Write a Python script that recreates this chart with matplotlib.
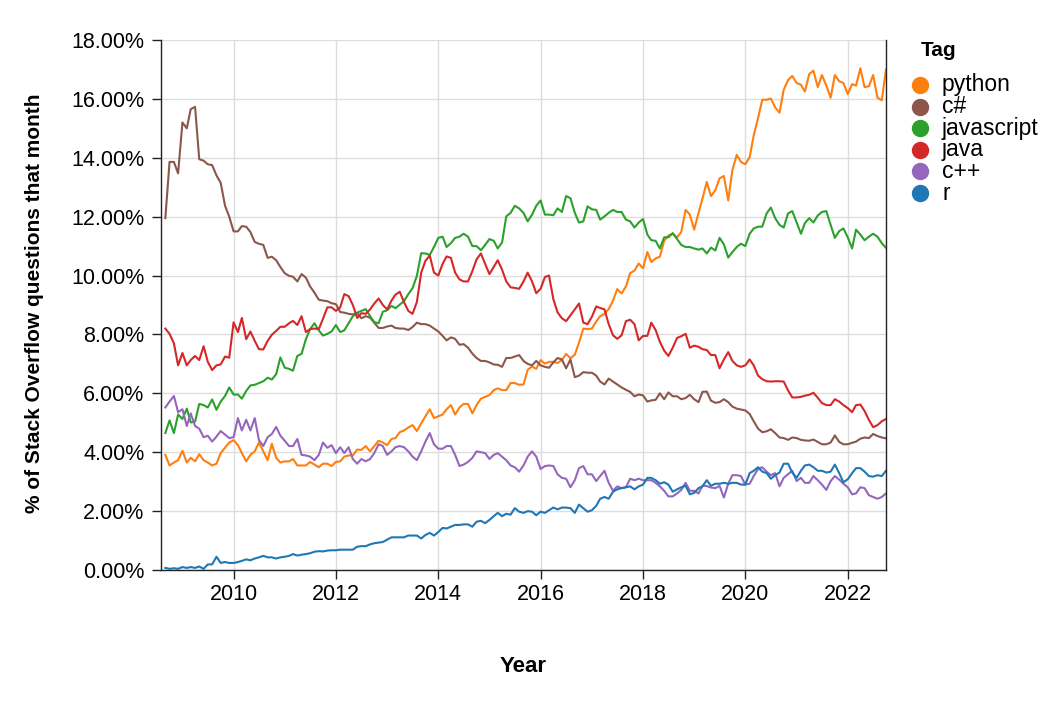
import matplotlib
matplotlib.use("Agg")
import matplotlib.pyplot as plt
import matplotlib.dates as mdates
from matplotlib.lines import Line2D
from matplotlib.ticker import MultipleLocator, FuncFormatter
from datetime import datetime
import pandas as pd

# monthly share of questions (%), Sep 2008 .. Oct 2022
months = pd.date_range("2008-09-01", periods=170, freq="MS")

python = [3.91, 3.55, 3.65, 3.73, 4.05, 3.65, 3.81, 3.69, 3.93, 3.73, 3.65, 3.55, 3.61, 3.97, 4.15, 4.33, 4.41, 4.24, 3.97, 3.69,
          3.91, 4.03, 4.33, 4.03, 3.73, 4.29, 3.81, 3.65, 3.69, 3.69, 3.77, 3.55, 3.55, 3.55, 3.67, 3.58, 3.49, 3.61, 3.61, 3.53,
          3.67, 3.69, 3.85,
          3.89, 3.89, 4.09, 4.08, 4.21, 4.03, 4.21, 4.39, 4.33, 4.24, 4.45, 4.48, 4.68, 4.74, 4.84, 4.92, 4.72, 4.98, 5.22, 5.46,
          5.16, 5.22, 5.28, 5.46, 5.6, 5.28, 5.52, 5.64, 5.64, 5.32, 5.6, 5.82, 5.88, 5.94, 6.11, 6.17, 6.11, 6.11, 6.35, 6.35,
          6.29, 6.3, 6.8,
          6.91, 6.83, 7.13, 7.01, 7.07, 7.07, 7.03, 7.13, 7.34, 7.19, 7.31, 7.72, 8.2, 8.18, 8.2, 8.44, 8.62, 8.7, 8.86, 9.15,
          9.54, 9.39, 9.63, 10.08, 10.17, 10.41, 10.25, 10.8, 10.46, 10.58, 10.64, 11.18, 11.36, 11.42, 11.3, 11.48, 12.23, 12.07,
          11.56, 12.13, 12.61,
          13.18, 12.7, 12.9, 13.3, 13.38, 12.55, 13.59, 14.1, 13.86, 13.78, 14.02, 14.76, 15.35, 15.97, 15.97, 16.01, 15.71, 15.53,
          16.31, 16.64, 16.78, 16.54, 16.48, 16.25, 16.84, 16.96, 16.4, 16.81, 16.45, 16.04, 16.81, 16.6, 16.54, 16.16, 16.5,
          16.45, 17.04, 16.4, 16.43, 16.81, 16.04, 15.95, 17.0]

csharp = [11.95, 13.86, 13.86, 13.47, 15.2, 15.0, 15.65, 15.73, 13.95, 13.9, 13.78, 13.75, 13.4, 13.15, 12.37, 12.0, 11.5, 11.5,
          11.68, 11.66, 11.48, 11.14, 11.08, 11.04, 10.6, 10.64, 10.52, 10.29, 10.08, 9.99, 9.96, 9.8, 10.05, 9.93, 9.63, 9.42,
          9.18, 9.15, 9.13, 9.06, 9.03, 8.76, 8.74,
          8.7, 8.68, 8.73, 8.55, 8.62, 8.57, 8.4, 8.22, 8.22, 8.27, 8.3, 8.22, 8.2, 8.2, 8.15, 8.25, 8.4, 8.35, 8.35, 8.3,
          8.2, 8.1, 7.95, 7.8, 7.9, 7.85, 7.65, 7.67, 7.55, 7.35, 7.2, 7.1, 7.1, 7.05, 6.98, 6.97, 6.9, 7.2, 7.2, 7.25,
          7.3, 7.1, 7.0,
          6.95, 7.1, 6.95, 6.9, 6.87, 7.05, 7.2, 7.15, 6.85, 7.15, 6.55, 6.6, 6.72, 6.7, 6.7, 6.6, 6.4, 6.3, 6.5, 6.4,
          6.3, 6.2, 6.12, 6.05, 5.9, 5.96, 5.93, 5.72, 5.76, 5.78, 6.0, 5.8, 6.03, 5.9, 5.9, 5.8, 5.84, 5.95, 5.8, 5.7,
          6.05,
          6.06, 5.75, 5.68, 5.7, 5.8, 5.7, 5.55, 5.48, 5.45, 5.42, 5.3, 5.05, 4.8, 4.68, 4.71, 4.78, 4.65, 4.5, 4.48, 4.42,
          4.5, 4.48, 4.42, 4.4, 4.39, 4.43, 4.35, 4.27, 4.27, 4.33, 4.57, 4.35, 4.27, 4.27, 4.32, 4.36, 4.46, 4.5, 4.48, 4.62,
          4.55, 4.5, 4.47]

javascript = [4.65, 5.08, 4.65, 5.28, 5.13, 5.48, 5.01, 5.04, 5.64, 5.6, 5.52, 5.79, 5.44, 5.72, 5.91, 6.2, 5.96, 5.96, 5.82,
              6.08, 6.27, 6.29, 6.35, 6.41, 6.53, 6.47, 6.65, 7.22, 6.87, 6.83, 6.77, 7.27, 7.34, 7.84, 8.18, 8.38, 8.14, 7.96,
              8.02, 8.1, 8.32, 8.08, 8.14,
              8.38, 8.62, 8.74, 8.8, 8.86, 8.62, 8.42, 8.38, 8.77, 8.82, 8.97, 8.89, 9.01, 9.13, 9.37, 9.57, 9.99, 10.76, 10.75,
              10.7, 10.97, 11.28, 11.32, 10.97, 11.1, 11.28, 11.32, 11.42, 11.32, 11.0, 11.0, 10.86, 11.04, 11.24, 11.18, 10.92,
              11.12, 12.01, 12.13, 12.37, 12.28, 12.13, 11.84,
              12.07, 12.37, 12.55, 12.07, 12.07, 12.05, 12.28, 12.16, 12.7, 12.63, 12.13, 11.8, 11.84, 12.35, 12.25, 12.23, 11.9,
              12.01, 12.13, 12.23, 12.16, 12.16, 11.9, 11.84, 11.63, 11.8, 11.92, 11.39, 11.2, 11.18, 10.92, 11.3, 11.3, 11.44,
              11.24, 11.04, 10.97, 10.97, 10.92, 10.88, 10.92,
              10.75, 10.95, 10.85, 11.28, 11.06, 10.61, 10.8, 10.97, 11.08, 11.0, 11.42, 11.6, 11.66, 11.66, 12.11, 12.31, 11.95,
              11.72, 11.63, 12.11, 12.19, 11.8, 11.42, 11.78, 11.95, 11.8, 12.04, 12.16, 12.19, 11.72, 11.28, 11.51, 11.6, 11.3,
              10.92, 11.56, 11.39, 11.2, 11.32, 11.42, 11.32, 11.1, 10.94]

java = [8.2, 8.02, 7.7, 6.95, 7.37, 6.95, 7.13, 7.27, 7.13, 7.6, 7.07, 6.79, 6.95, 6.98, 7.25, 7.21, 8.41, 8.08, 8.56, 7.84,
        8.1, 7.78, 7.5, 7.49, 7.78, 7.99, 8.12, 8.26, 8.26, 8.38, 8.46, 8.32, 8.62, 8.08, 8.18, 8.2, 8.18, 8.53, 8.92, 8.92,
        8.8, 8.92, 9.37,
        9.3, 9.0, 8.56, 8.72, 8.7, 8.85, 9.05, 9.22, 9.0, 8.85, 9.15, 9.35, 9.45, 9.1, 8.8, 8.7, 9.1, 10.1, 10.5, 10.68,
        10.1, 10.0, 10.4, 10.65, 10.6, 10.1, 9.87, 9.8, 9.8, 10.15, 10.55, 10.75, 10.4, 10.05, 10.3, 10.52, 10.2, 9.8, 9.6, 9.58,
        9.55, 9.8, 10.1,
        9.8, 9.4, 9.55, 9.95, 10.0, 9.2, 8.75, 8.55, 8.45, 8.65, 8.85, 9.05, 8.4, 8.35, 8.6, 8.95, 8.9, 8.85, 8.35, 7.97,
        7.85, 7.97, 8.45, 8.5, 8.35, 7.8, 7.95, 7.95, 8.4, 8.15, 7.75, 7.45, 7.27, 7.55, 7.88, 7.94, 8.02, 7.55, 7.62, 7.58,
        7.5,
        7.47, 7.3, 7.3, 6.85, 7.15, 7.4, 7.1, 6.95, 6.9, 6.95, 7.15, 6.95, 6.6, 6.48, 6.41, 6.4, 6.41, 6.41, 6.4, 6.1,
        5.86, 5.86, 5.88, 5.92, 5.95, 6.02, 5.85, 5.67, 5.6, 5.6, 5.8, 5.72, 5.6, 5.5, 5.36, 5.6, 5.62, 5.4, 5.1, 4.85,
        4.92, 5.05, 5.13]

cpp = [5.52, 5.72, 5.91, 5.36, 5.46, 4.89, 5.32, 4.89, 4.8, 4.51, 4.56, 4.36, 4.53, 4.72, 4.6, 4.48, 4.51, 5.16, 4.74, 5.1,
       4.74, 5.16, 4.41, 4.21, 4.51, 4.62, 4.86, 4.56, 4.39, 4.21, 4.21, 4.45, 3.91, 3.89, 3.85, 3.73, 3.91, 4.33, 4.15, 4.24,
       3.97, 4.17, 3.97,
       4.17, 3.77, 3.61, 3.77, 3.69, 3.77, 3.97, 4.27, 4.21, 3.91, 4.03, 4.17, 4.21, 4.17, 4.03, 3.85, 3.73, 4.03, 4.36, 4.65,
       4.27, 4.12, 4.12, 4.21, 4.21, 3.91, 3.53, 3.58, 3.67, 3.81, 4.03, 4.0, 3.97, 3.77, 3.91, 3.97, 3.85, 3.73, 3.55, 3.49,
       3.34, 3.55, 3.85,
       4.03, 3.85, 3.43, 3.53, 3.55, 3.53, 3.25, 3.13, 3.1, 2.81, 3.05, 3.46, 3.53, 3.25, 3.25, 3.02, 3.19, 3.37, 2.96, 2.69,
       2.84, 2.78, 2.81, 3.1, 3.05, 3.1, 3.05, 3.05, 3.05, 2.96, 2.84, 2.69, 2.5, 2.5, 2.6, 2.72, 2.96, 2.69, 2.69, 2.6,
       2.86,
       2.85, 2.8, 2.78, 2.86, 2.46, 2.93, 3.22, 3.22, 3.19, 2.9, 2.93, 3.19, 3.43, 3.49, 3.34, 3.22, 3.29, 2.84, 3.13, 3.25,
       3.37, 3.02, 3.13, 2.96, 2.96, 3.19, 3.05, 2.9, 2.72, 3.02, 3.19, 3.07, 2.93, 2.81, 2.57, 2.6, 2.81, 2.78, 2.54, 2.48,
       2.42, 2.48, 2.6]

r = [0.07, 0.04, 0.06, 0.04, 0.1, 0.07, 0.1, 0.07, 0.12, 0.04, 0.19, 0.19, 0.45, 0.24, 0.27, 0.24, 0.24, 0.27, 0.31, 0.36,
     0.33, 0.39, 0.43, 0.48, 0.43, 0.43, 0.39, 0.43, 0.45, 0.48, 0.54, 0.49, 0.52, 0.54, 0.57, 0.62, 0.64, 0.63, 0.66, 0.67,
     0.67, 0.69, 0.69,
     0.69, 0.69, 0.79, 0.81, 0.81, 0.87, 0.91, 0.93, 0.95, 1.03, 1.11, 1.11, 1.11, 1.11, 1.17, 1.17, 1.17, 1.07, 1.19, 1.26,
     1.17, 1.29, 1.43, 1.41, 1.47, 1.53, 1.53, 1.55, 1.55, 1.47, 1.64, 1.67, 1.59, 1.7, 1.83, 1.94, 1.83, 1.91, 1.88, 2.1,
     1.98, 1.94, 2.0,
     1.98, 1.86, 1.98, 1.94, 2.03, 2.12, 2.06, 2.12, 2.12, 2.1, 1.94, 2.22, 2.1, 1.98, 2.03, 2.18, 2.42, 2.48, 2.42, 2.66,
     2.74, 2.78, 2.81, 2.84, 2.74, 2.84, 2.9, 3.13, 3.13, 3.05, 2.93, 2.98, 2.9, 2.66, 2.74, 2.81, 2.86, 2.57, 2.62, 2.78,
     2.84,
     3.05, 2.86, 2.93, 2.93, 2.96, 2.93, 2.96, 2.96, 2.9, 2.9, 3.29, 3.37, 3.49, 3.34, 3.29, 3.1, 3.22, 3.31, 3.61, 3.61,
     3.31, 3.13, 3.37, 3.55, 3.58, 3.49, 3.37, 3.37, 3.31, 3.34, 3.58, 3.29, 2.98, 3.08, 3.29, 3.46, 3.46, 3.34, 3.19, 3.17,
     3.22, 3.19, 3.37]

tags = ["python", "c#", "javascript", "java", "c++", "r"]
series = [python, csharp, javascript, java, cpp, r]
colors = ["#ff7f0e", "#8c564b", "#2ca02c", "#d62728", "#9467bd", "#1f77b4"]

plt.rcParams["font.family"] = ["Liberation Sans", "DejaVu Sans"]

W, H = 1060, 705
fig = plt.figure(figsize=(W / 100, H / 100), dpi=100)
ax = fig.add_axes([161 / W, 1 - 570 / H, 725 / W, 530 / H])

for tag, vals, col in zip(tags, series, colors):
    ax.plot(months, vals, color=col, lw=1.5, label=tag)

ax.set_xlim(datetime(2008, 8, 1), datetime(2022, 10, 1))
ax.set_ylim(0, 18)
ax.xaxis.set_major_locator(mdates.YearLocator(2))
ax.xaxis.set_major_formatter(mdates.DateFormatter("%Y"))
ax.yaxis.set_major_locator(MultipleLocator(2))
ax.yaxis.set_major_formatter(FuncFormatter(lambda v, p: f"{v:.2f}%"))

ax.grid(True, color="#dddddd", lw=1)
ax.set_axisbelow(True)
ax.spines["top"].set_visible(False)
for s in ["left", "bottom", "right"]:
    ax.spines[s].set_color("#222222")
    ax.spines[s].set_linewidth(1)
ax.tick_params(axis="x", length=6.5, width=1, color="#222222", labelsize=15.5, pad=3.5)
ax.tick_params(axis="y", length=6.5, width=1, color="#222222", labelsize=15.5, pad=5.5)

# axis titles
fig.text(35 / W, 1 - 303 / H, "% of Stack Overflow questions that month", rotation=90,
         ha="center", va="center", fontsize=15, fontweight="bold")
fig.text(523 / W, 1 - 666 / H, "Year", ha="center", va="center", fontsize=16, fontweight="bold")

# legend
fig.text(921 / W, 1 - 50 / H, "Tag", ha="left", va="center", fontsize=15, fontweight="bold")
for k, (tag, col) in enumerate(zip(tags, colors)):
    yy = 1 - (85 + 21.6 * k) / H
    fig.add_artist(Line2D([920 / W], [yy], marker="o", ms=11.5, color=col, linestyle="none",
                          transform=fig.transFigure))
    fig.text(942 / W, yy, tag, ha="left", va="center", fontsize=16.5)

fig.savefig("out.png", dpi=100)
